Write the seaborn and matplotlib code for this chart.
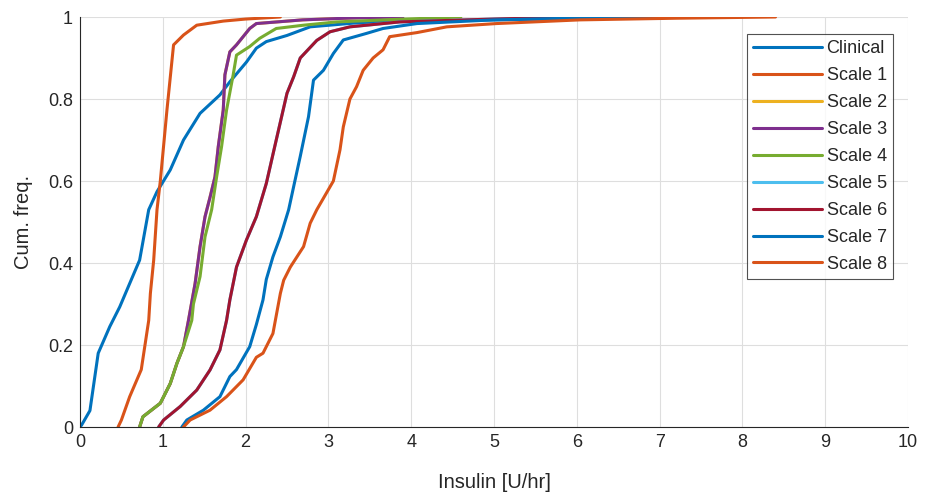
import numpy as np
import pandas as pd
import matplotlib
matplotlib.use("Agg")
import matplotlib.pyplot as plt
import seaborn as sns

# ---------------- data ----------------
series_names = ["Clinical", "Scale 1", "Scale 2", "Scale 3", "Scale 4",
                "Scale 5", "Scale 6", "Scale 7", "Scale 8"]
colors = ["#0072BD", "#D95319", "#EDB120", "#7E2F8E", "#77AC30",
          "#4DBEEE", "#A2142F", "#0072BD", "#D95319"]

clinical_x = [0.0, 0.02, 0.12, 0.22, 0.36, 0.48, 0.60, 0.72, 0.83, 0.93, 1.09, 1.25,
              1.45, 1.69, 1.81, 2.01, 2.13, 2.25, 2.50, 2.78, 3.3, 4.0, 5.0, 6.0, 7.4]
clinical_y = [0.0, 0.005, 0.04, 0.18, 0.245, 0.293, 0.35, 0.407, 0.53, 0.574, 0.627, 0.70,
              0.765, 0.81, 0.842, 0.89, 0.924, 0.94, 0.955, 0.976, 0.985, 0.99, 0.993, 0.996, 1.0]

scale1_x = [0.46, 0.50, 0.60, 0.74, 0.83, 0.85, 0.89, 0.93, 0.97, 1.05, 1.13, 1.25,
            1.41, 1.73, 2.0, 2.42]
scale1_y = [0.0, 0.017, 0.074, 0.14, 0.26, 0.326, 0.407, 0.53, 0.60, 0.773, 0.932, 0.956,
            0.98, 0.99, 0.995, 1.0]

scale3_x = [0.72, 0.76, 0.97, 1.09, 1.17, 1.25, 1.31, 1.39, 1.45, 1.51, 1.57, 1.63,
            1.67, 1.73, 1.75, 1.81, 1.89, 2.05, 2.13, 2.69, 3.2, 3.9]
scale3_y = [0.0, 0.025, 0.058, 0.106, 0.155, 0.196, 0.26, 0.35, 0.44, 0.513, 0.56, 0.61,
            0.684, 0.773, 0.859, 0.915, 0.932, 0.972, 0.984, 0.993, 0.997, 1.0]

scale2_x = scale3_x[:-1] + [3.5]
scale2_y = scale3_y

scale4_x = [0.72, 0.76, 0.97, 1.09, 1.17, 1.25, 1.35, 1.37, 1.45, 1.51, 1.59, 1.65,
            1.71, 1.77, 1.85, 1.89, 2.05, 2.17, 2.37, 2.70, 3.10, 3.8, 4.6]
scale4_y = [0.0, 0.025, 0.058, 0.106, 0.155, 0.196, 0.26, 0.30, 0.367, 0.464, 0.53, 0.61,
            0.684, 0.773, 0.859, 0.907, 0.928, 0.948, 0.972, 0.98, 0.988, 0.994, 1.0]

scale6_x = [0.95, 1.01, 1.21, 1.41, 1.57, 1.69, 1.77, 1.81, 1.89, 2.01, 2.13, 2.25,
            2.37, 2.50, 2.58, 2.66, 2.86, 3.02, 3.26, 3.86, 5.0, 6.0]
scale6_y = [0.0, 0.017, 0.05, 0.09, 0.139, 0.188, 0.26, 0.31, 0.39, 0.456, 0.513, 0.594,
            0.70, 0.814, 0.854, 0.90, 0.943, 0.964, 0.976, 0.988, 0.995, 1.0]

scale5_x = scale6_x[:-1] + [5.6]
scale5_y = scale6_y

scale7_x = [1.23, 1.29, 1.49, 1.69, 1.81, 1.89, 2.05, 2.13, 2.21, 2.25, 2.33, 2.42,
            2.52, 2.58, 2.66, 2.76, 2.82, 2.94, 3.06, 3.18, 3.46, 3.66, 4.07, 5.0, 6.6]
scale7_y = [0.0, 0.017, 0.041, 0.074, 0.123, 0.14, 0.196, 0.25, 0.31, 0.36, 0.415, 0.464,
            0.53, 0.586, 0.66, 0.757, 0.846, 0.87, 0.911, 0.944, 0.96, 0.972, 0.984, 0.993, 1.0]

scale8_x = [1.25, 1.33, 1.57, 1.77, 1.97, 2.13, 2.21, 2.33, 2.42, 2.46, 2.54, 2.70,
            2.78, 2.86, 3.06, 3.14, 3.18, 3.26, 3.34, 3.42, 3.54, 3.66, 3.74, 4.07,
            4.43, 5.03, 6.04, 7.2, 8.4]
scale8_y = [0.0, 0.017, 0.041, 0.074, 0.115, 0.17, 0.18, 0.228, 0.326, 0.358, 0.39, 0.44,
            0.497, 0.53, 0.60, 0.676, 0.732, 0.80, 0.83, 0.87, 0.90, 0.92, 0.952, 0.962,
            0.976, 0.984, 0.993, 0.997, 1.0]

xs = [clinical_x, scale1_x, scale2_x, scale3_x, scale4_x, scale5_x, scale6_x, scale7_x, scale8_x]
ys = [clinical_y, scale1_y, scale2_y, scale3_y, scale4_y, scale5_y, scale6_y, scale7_y, scale8_y]

xticks = list(range(0, 11))
yticks = [0, 0.2, 0.4, 0.6, 0.8, 1]
ytick_labels = ["0", "0.2", "0.4", "0.6", "0.8", "1"]

rows = []
for name, xv, yv in zip(series_names, xs, ys):
    for i, (a, b) in enumerate(zip(xv, yv)):
        rows.append({"series": name, "x": a, "y": b, "order": i})
df = pd.DataFrame(rows)

# ---------------- style ----------------
sns.set_style("white")
plt.rcParams["font.family"] = ["Liberation Sans", "DejaVu Sans"]
plt.rcParams["xtick.direction"] = "in"
plt.rcParams["ytick.direction"] = "in"

fig = plt.figure(figsize=(9.25, 4.97), dpi=100)
ax = fig.add_axes([80 / 925, 1 - 427 / 497, 828 / 925, 410 / 497])

sns.lineplot(data=df, x="x", y="y", hue="series", hue_order=series_names,
             palette=colors, estimator=None, sort=False, units="series",
             linewidth=2.2, ax=ax, legend=True)

ax.set_xlim(0, 10)
ax.set_ylim(0, 1)
ax.set_xticks(xticks)
ax.set_xticklabels([str(t) for t in xticks])
ax.set_yticks(yticks)
ax.set_yticklabels(ytick_labels)
ax.grid(True, color="#dedede", linewidth=0.8)
ax.set_axisbelow(True)
for s in ["top", "right"]:
    ax.spines[s].set_visible(False)
for s in ["left", "bottom"]:
    ax.spines[s].set_color("#262626")
    ax.spines[s].set_linewidth(0.8)
ax.tick_params(axis="both", colors="#262626", labelsize=13, length=4, width=0.8,
               pad=5)
ax.set_xlabel("Insulin [U/hr]", fontsize=14.5, color="#262626", labelpad=16)
ax.set_ylabel("Cum. freq.", fontsize=14.5, color="#262626", labelpad=11)

handles, labels = ax.get_legend_handles_labels()
leg = ax.legend(handles, labels, loc="upper right",
                bbox_to_anchor=(0.982, 0.9585), borderaxespad=0,
                fancybox=False, frameon=True, fontsize=13,
                handlelength=3.8, handletextpad=0.25, labelspacing=0.55,
                borderpad=0.35)
leg.get_frame().set_edgecolor("#262626")
leg.get_frame().set_linewidth(0.8)
for t in leg.get_texts():
    t.set_color("#262626")
for h in leg.get_lines():
    h.set_linewidth(2.2)

fig.savefig("out.png", dpi=100, facecolor="white")
